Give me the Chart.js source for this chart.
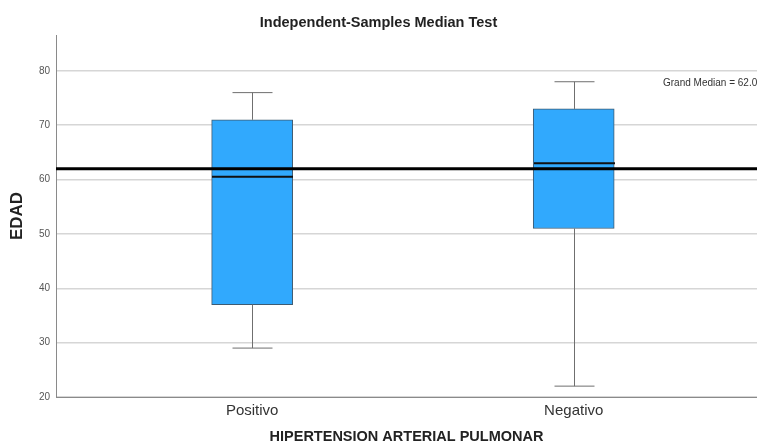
<!DOCTYPE html>
<html>
<head>
<meta charset="utf-8">
<script src="https://cdn.jsdelivr.net/npm/chart.js@4"></script>
<style>
  html, body { margin: 0; padding: 0; background: #ffffff; }
  #wrap { width: 757px; height: 446px; position: relative; }
</style>
</head>
<body>
<div id="wrap"><canvas id="chart"></canvas></div>
<script>
// Age (EDAD) distribution by pulmonary arterial hypertension status
const categories = ['Positivo', 'Negativo'];
const whiskerLow = [29, 22];
const quartile1 = [37, 51];
const medians = [60.5, 63];
const quartile3 = [71, 73];
const whiskerHigh = [76, 78];
const grandMedian = 62.0;
const yTicks = [20, 30, 40, 50, 60, 70, 80];

const FONT = "'Liberation Sans', Arial, Helvetica, sans-serif";

// Whiskers, box medians and the grand-median reference line
const boxExtras = {
  id: 'boxExtras',
  afterDatasetsDraw(chart) {
    const { ctx, chartArea, scales } = chart;
    const xs = scales.x, ys = scales.y;
    const half = chart.data.datasets[0].barThickness / 2;
    ctx.save();
    categories.forEach((_, i) => {
      const x = Math.round(xs.getPixelForValue(i + 1)) + 0.5;
      const yLo = ys.getPixelForValue(whiskerLow[i]);
      const yQ1 = ys.getPixelForValue(quartile1[i]);
      const yQ3 = ys.getPixelForValue(quartile3[i]);
      const yHi = ys.getPixelForValue(whiskerHigh[i]);
      ctx.strokeStyle = '#6f6f6f';
      ctx.lineWidth = 1;
      ctx.beginPath();
      ctx.moveTo(x, yQ1); ctx.lineTo(x, yLo);
      ctx.moveTo(x, yQ3); ctx.lineTo(x, yHi);
      ctx.moveTo(x - 20, yLo); ctx.lineTo(x + 20, yLo);
      ctx.moveTo(x - 20, yHi); ctx.lineTo(x + 20, yHi);
      ctx.stroke();
      const yMed = ys.getPixelForValue(medians[i]);
      ctx.strokeStyle = '#111111';
      ctx.lineWidth = 2;
      ctx.beginPath();
      ctx.moveTo(x - half, yMed); ctx.lineTo(x + half, yMed);
      ctx.stroke();
    });
    const yG = ys.getPixelForValue(grandMedian);
    ctx.strokeStyle = '#000000';
    ctx.lineWidth = 3;
    ctx.beginPath();
    ctx.moveTo(chartArea.left, yG); ctx.lineTo(chartArea.right, yG);
    ctx.stroke();
    ctx.fillStyle = '#333333';
    ctx.font = '10px ' + FONT;
    ctx.textAlign = 'left';
    ctx.textBaseline = 'middle';
    ctx.fillText('Grand Median = ' + grandMedian.toFixed(1), chartArea.right - 94, chartArea.top + 48);
    ctx.restore();
  }
};

new Chart(document.getElementById('chart'), {
  type: 'bar',
  data: {
    datasets: [{
      data: categories.map((c, i) => ({ x: i + 1, y: [quartile1[i], quartile3[i]] })),
      backgroundColor: '#31a9fd',
      borderColor: '#3e5b72',
      borderWidth: 1,
      borderSkipped: false,
      barThickness: 81
    }]
  },
  options: {
    responsive: true,
    maintainAspectRatio: false,
    animation: false,
    layout: { padding: 0 },
    plugins: {
      legend: { display: false },
      tooltip: { enabled: false },
      title: {
        display: true,
        text: 'Independent-Samples Median Test',
        color: '#222222',
        font: { family: FONT, size: 14.5, weight: 'bold' },
        padding: { top: 14.3, bottom: 3.3 }
      }
    },
    scales: {
      x: {
        type: 'linear',
        offset: false,
        min: 0.39,
        max: 2.57,
        afterBuildTicks: (scale) => { scale.ticks = categories.map((c, i) => ({ value: i + 1 })); },
        afterFit: (scale) => { scale.height = 49; },
        grid: { display: false, drawTicks: false },
        border: { display: true, color: '#8a8a8a', width: 1 },
        ticks: {
          padding: 5,
          color: '#333333',
          font: { family: FONT, size: 15 },
          maxRotation: 0,
          callback: (v) => categories[v - 1] ?? ''
        },
        title: {
          display: true,
          text: 'HIPERTENSION ARTERIAL PULMONAR',
          color: '#222222',
          font: { family: FONT, size: 14.5, weight: 'bold' },
          padding: { top: 0, bottom: 0 }
        }
      },
      y: {
        type: 'linear',
        min: 20,
        max: 86.6,
        afterBuildTicks: (scale) => { scale.ticks = yTicks.map(v => ({ value: v })); },
        afterFit: (scale) => { scale.width = 56; },
        grid: { color: '#d6d6d6', lineWidth: 1.5, drawTicks: false },
        border: { display: true, color: '#8a8a8a', width: 1 },
        ticks: {
          padding: 6,
          color: '#555555',
          font: { family: FONT, size: 10 }
        },
        title: {
          display: true,
          text: 'EDAD',
          color: '#222222',
          font: { family: FONT, size: 17, weight: 'bold' },
          padding: { top: 6.8, bottom: 0 }
        }
      }
    }
  },
  plugins: [boxExtras]
});
</script>
</body>
</html>
